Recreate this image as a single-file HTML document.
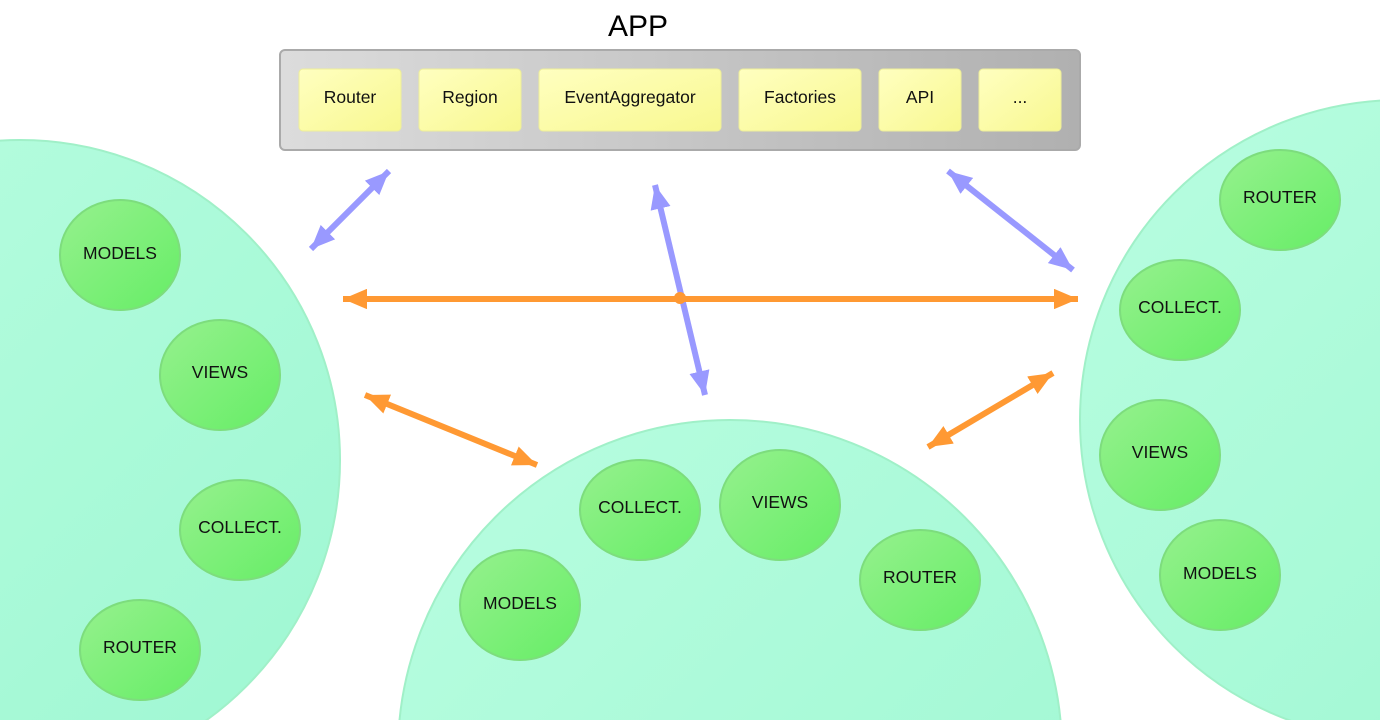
<!DOCTYPE html>
<html><head><meta charset="utf-8"><style>
html,body{margin:0;padding:0;background:#fff;width:1380px;height:720px;overflow:hidden}
svg{display:block;overflow:hidden}
text{font-family:"Liberation Sans",sans-serif}
</style></head><body>
<svg width="1380" height="720" viewBox="0 0 1380 720" xmlns="http://www.w3.org/2000/svg">
<defs>
<linearGradient id="big" x1="0" y1="0" x2="1" y2="1"><stop offset="0" stop-color="#b8fde0"/><stop offset="1" stop-color="#9ef7d2"/></linearGradient>
<linearGradient id="sm" x1="0" y1="0" x2="1" y2="1"><stop offset="0" stop-color="#96f08e"/><stop offset="1" stop-color="#66ee66"/></linearGradient>
<linearGradient id="gray" x1="0" y1="0" x2="1" y2="0"><stop offset="0" stop-color="#dcdcdc"/><stop offset="1" stop-color="#b0b0b0"/></linearGradient>
<linearGradient id="yel" x1="0" y1="0" x2="1" y2="1"><stop offset="0" stop-color="#ffffc0"/><stop offset="1" stop-color="#f8f890"/></linearGradient>
<marker id="bh" viewBox="0 0 10 10" refX="10" refY="5" markerWidth="4" markerHeight="3.4" orient="auto-start-reverse" markerUnits="strokeWidth" preserveAspectRatio="none"><path d="M0,0 L10,5 L0,10 Z" fill="#9999ff"/></marker>
<marker id="oh" viewBox="0 0 10 10" refX="10" refY="5" markerWidth="4" markerHeight="3.4" orient="auto-start-reverse" markerUnits="strokeWidth" preserveAspectRatio="none"><path d="M0,0 L10,5 L0,10 Z" fill="#ff9933"/></marker>
</defs>
<text x="638" y="36" font-size="30" text-anchor="middle" fill="#000">APP</text>
<rect x="280" y="50" width="800" height="100" rx="5" fill="url(#gray)" stroke="#aaa" stroke-width="2"/>
<g fill="url(#yel)" stroke="#eeee99" stroke-width="1">
<rect x="299" y="69" width="102" height="62" rx="4"/>
<rect x="419" y="69" width="102" height="62" rx="4"/>
<rect x="539" y="69" width="182" height="62" rx="4"/>
<rect x="739" y="69" width="122" height="62" rx="4"/>
<rect x="879" y="69" width="82" height="62" rx="4"/>
<rect x="979" y="69" width="82" height="62" rx="4"/>
</g>
<g font-size="17.5" text-anchor="middle" fill="#111">
<text x="350" y="103">Router</text><text x="470" y="103">Region</text><text x="630" y="103">EventAggregator</text><text x="800" y="103">Factories</text><text x="920" y="103">API</text><text x="1020" y="103">...</text>
</g>
<circle cx="20" cy="460" r="320" fill="url(#big)" stroke="#a0f0c8" stroke-width="2"/>
<circle cx="730" cy="752" r="332" fill="url(#big)" stroke="#a0f0c8" stroke-width="2"/>
<circle cx="1400" cy="420" r="320" fill="url(#big)" stroke="#a0f0c8" stroke-width="2"/>
<g fill="url(#sm)" stroke="#7ddd7d" stroke-width="2">
<ellipse cx="120" cy="255" rx="60" ry="55"/><ellipse cx="220" cy="375" rx="60" ry="55"/><ellipse cx="240" cy="530" rx="60" ry="50"/><ellipse cx="140" cy="650" rx="60" ry="50"/>
<ellipse cx="640" cy="510" rx="60" ry="50"/><ellipse cx="780" cy="505" rx="60" ry="55"/><ellipse cx="520" cy="605" rx="60" ry="55"/><ellipse cx="920" cy="580" rx="60" ry="50"/>
<ellipse cx="1280" cy="200" rx="60" ry="50"/><ellipse cx="1180" cy="310" rx="60" ry="50"/><ellipse cx="1160" cy="455" rx="60" ry="55"/><ellipse cx="1220" cy="575" rx="60" ry="55"/>
</g>
<g font-size="17.5" text-anchor="middle" fill="#111">
<text x="120" y="259">MODELS</text><text x="220" y="378">VIEWS</text><text x="240" y="533">COLLECT.</text><text x="140" y="653">ROUTER</text>
<text x="640" y="513">COLLECT.</text><text x="780" y="508">VIEWS</text><text x="520" y="609">MODELS</text><text x="920" y="583">ROUTER</text>
<text x="1280" y="203">ROUTER</text><text x="1180" y="313">COLLECT.</text><text x="1160" y="458">VIEWS</text><text x="1220" y="579">MODELS</text>
</g>
<g stroke-width="6" fill="none">
<line x1="311" y1="249" x2="389" y2="171" stroke="#9999ff" marker-start="url(#bh)" marker-end="url(#bh)"/>
<line x1="655" y1="185" x2="705" y2="395" stroke="#9999ff" marker-start="url(#bh)" marker-end="url(#bh)"/>
<line x1="948" y1="171" x2="1073" y2="270" stroke="#9999ff" marker-start="url(#bh)" marker-end="url(#bh)"/>
<line x1="343" y1="299" x2="1078" y2="299" stroke="#ff9933" marker-start="url(#oh)" marker-end="url(#oh)"/>
<line x1="365" y1="395" x2="537" y2="465" stroke="#ff9933" marker-start="url(#oh)" marker-end="url(#oh)"/>
<line x1="928" y1="447" x2="1053" y2="373" stroke="#ff9933" marker-start="url(#oh)" marker-end="url(#oh)"/>
</g>
<circle cx="680" cy="298" r="6" fill="#ff9933"/>
</svg>
</body></html>
